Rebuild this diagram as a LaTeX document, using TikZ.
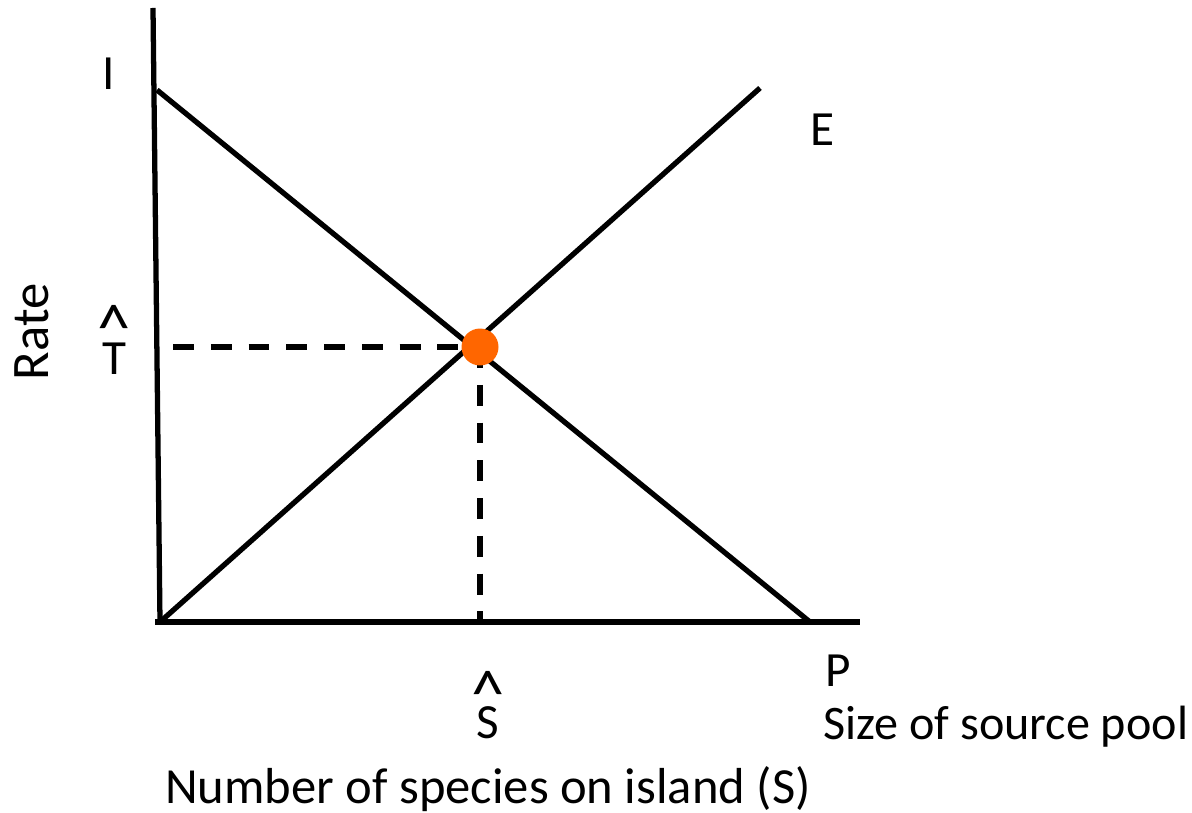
\documentclass[tikz,border=0pt]{standalone}
\usepackage{fontspec}
\setmainfont{Carlito}
\usetikzlibrary{positioning}

\newcommand{\bighat}{{\fontsize{38}{19.5}\selectfont\textasciicircum}}

\begin{document}
\begin{tikzpicture}[
  x=0.02cm, y=-0.02cm,
  axis/.style={line width=3pt},
  rateline/.style={line width=3pt},
  guide/.style={line width=3pt,dash pattern=on 11.9pt off 9.6pt},
  eqdot/.style={circle,fill={rgb,255:red,255;green,102;blue,0},minimum size=0.74cm,inner sep=0pt},
  lbl/.style={font=\fontsize{28}{33}\selectfont,inner sep=0pt},
  hatlbl/.style={font=\fontsize{28}{11.5}\selectfont,align=center,inner sep=0pt,anchor=south}
]
\useasboundingbox (0,0) rectangle (1192,813);
\coordinate (ytop) at (153,8);
\coordinate (ybot) at (160,622);
\coordinate (xbeg) at (155,622);
\coordinate (xend) at (860,622);
\coordinate (imax) at (157,90);
\coordinate (izero) at (810,622);
\coordinate (ezero) at (160,622);
\coordinate (emax) at (760,88);
\coordinate (eq) at (480,347);
\coordinate (tmark) at (173,347);
\coordinate (smark) at (480,622);
\draw[axis] (ytop) -- (ybot);
\draw[axis] (xbeg) -- (xend);
\draw[rateline] (imax) -- (izero);
\draw[rateline] (ezero) -- (emax);
\draw[guide] (tmark) -- (eq);
\draw[guide] (eq) -- (smark);
\node[eqdot] (dot) at (eq) {};
\node[lbl,anchor=base] (ilbl) at (109,90) {I};
\node[lbl,anchor=base] (elbl) at (822,146) {E};
\node[lbl,font=\fontsize{30}{36}\selectfont,rotate=90,anchor=base] (rate) at (48,332) {Rate};
\node[hatlbl] (that) at (114,375) {\bighat\\[-5pt]T};
\node[hatlbl] (shat) at (488,739) {\bighat\\[-7pt]S};
\node[lbl,anchor=base west] (plbl) at (825,686) {P};
\node[lbl,font=\fontsize{27.4}{33}\selectfont,anchor=base west] (pool) at (823,739) {Size of source pool};
\node[lbl,font=\fontsize{28.8}{34}\selectfont,anchor=base] (xlbl) at (488,803) {Number of species on island (S)};
\end{tikzpicture}
\end{document}
